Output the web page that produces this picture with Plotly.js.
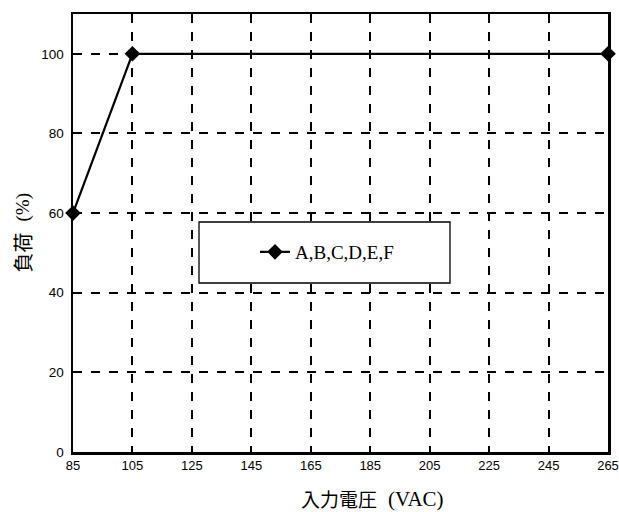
<!DOCTYPE html>
<html>
<head>
<meta charset="utf-8">
<script src="https://cdn.plot.ly/plotly-3.0.1.min.js"></script>
<style>html,body{margin:0;padding:0;background:#fff;}#chart{width:619px;height:512px;}</style>
</head>
<body>
<div id="chart"></div>
<script>
const voltage = [85, 105, 265];
const load = [60, 100, 100];
const seriesName = 'A,B,C,D,E,F';
const xTicks = [85, 105, 125, 145, 165, 185, 205, 225, 245, 265];
const yTicks = [0, 20, 40, 60, 80, 100];
const xTitleCJK = '入力電圧';
const xTitleUnit = '(VAC)';
const yTitleCJK = '負荷';
const yTitleUnit = '(%)';

const W = 535, H = 438, L = 73, T = 14;
const px = v => (v - L) / W;
const py = v => (T + H - v) / H;

const trace = {
  x: voltage, y: load, name: seriesName, type: 'scatter', mode: 'lines+markers',
  line: {color: '#000', width: 2.2},
  marker: {symbol: 'diamond', size: 12, color: '#000'},
  cliponaxis: false
};

const cjkFont = {family: 'Noto Sans CJK JP, sans-serif', size: 19, color: '#000'};
const unitFont = {family: 'Liberation Serif, serif', size: 21, color: '#000'};

const layout = {
  width: 619, height: 512,
  margin: {l: 73, r: 11, t: 14, b: 60},
  paper_bgcolor: '#fff', plot_bgcolor: '#fff',
  showlegend: true,
  legend: {
    x: px(255), y: py(252), xanchor: 'left', yanchor: 'middle', xref: 'paper', yref: 'paper',
    bgcolor: 'rgba(0,0,0,0)', borderwidth: 0,
    font: {family: 'Liberation Serif, serif', size: 19, color: '#000'}
  },
  shapes: [{
    type: 'rect', xref: 'paper', yref: 'paper', layer: 'above',
    x0: px(199), x1: px(450), y0: py(283), y1: py(222),
    line: {color: '#000', width: 1.3}, fillcolor: '#fff'
  }],
  annotations: [
    {text: xTitleCJK, xref: 'paper', yref: 'paper', x: px(338.5), y: py(498), xanchor: 'center', yanchor: 'middle', showarrow: false, font: cjkFont},
    {text: xTitleUnit, xref: 'paper', yref: 'paper', x: px(416), y: py(499), xanchor: 'center', yanchor: 'middle', showarrow: false, font: unitFont},
    {text: yTitleCJK, xref: 'paper', yref: 'paper', x: px(22), y: py(252.5), xanchor: 'center', yanchor: 'middle', textangle: -90, showarrow: false, font: {family: 'Noto Sans CJK JP, sans-serif', size: 20, color: '#000'}},
    {text: yTitleUnit, xref: 'paper', yref: 'paper', x: px(22), y: py(207.5), xanchor: 'center', yanchor: 'middle', textangle: -90, showarrow: false, font: {family: 'Liberation Serif, serif', size: 19, color: '#000'}}
  ],
  xaxis: {
    range: [85, 265], tickvals: xTicks, ticktext: xTicks.map(String),
    showgrid: true, gridcolor: '#000', gridwidth: 2, griddash: 'dash',
    showline: true, linecolor: '#000', linewidth: 2.5, mirror: true,
    ticks: '', zeroline: false, ticklabeloverflow: 'allow',
    tickfont: {family: 'Liberation Sans, Arial, sans-serif', size: 13, color: '#000'}
  },
  yaxis: {
    range: [0, 110], tickvals: yTicks, ticktext: yTicks.map(String),
    showgrid: true, gridcolor: '#000', gridwidth: 2, griddash: 'dash',
    showline: true, linecolor: '#000', linewidth: 2.5, mirror: true,
    ticks: '', zeroline: false, ticklabelstandoff: 4,
    tickfont: {family: 'Liberation Sans, Arial, sans-serif', size: 13.5, color: '#000'}
  }
};

Plotly.newPlot('chart', [trace], layout, {displayModeBar: false, staticPlot: true});
</script>
</body>
</html>
